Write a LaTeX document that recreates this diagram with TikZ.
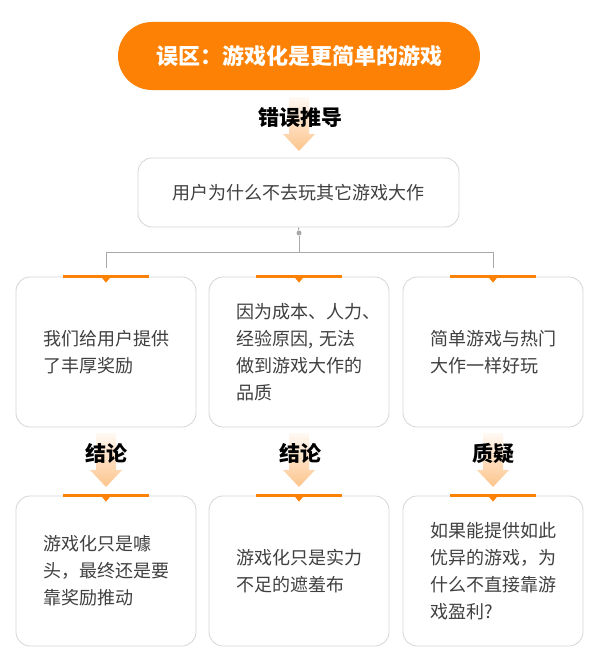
\documentclass[tikz,border=0pt]{standalone}
\usepackage{fontspec}
\setmainfont{Noto Sans CJK SC}
\usetikzlibrary{positioning}
\definecolor{orng}{HTML}{FC8104}
\definecolor{peach}{HTML}{FDC48C}
\definecolor{txtgray}{HTML}{404040}
\definecolor{edgegray}{HTML}{D6D6D6}
\definecolor{linegray}{HTML}{A8A8A8}
\tikzset{
  card/.style={draw=edgegray, line width=0.8pt, rounded corners=14pt, fill=white,
    text=txtgray, font=\fontsize{18}{27}\selectfont, align=left},
  sqcard/.style={card, minimum width=180pt, minimum height=150pt, text width=126pt, inner sep=0pt},
  pill/.style={fill=orng, rounded corners=34pt, minimum width=362pt, minimum height=68pt,
    text=white, font=\fontsize{22}{26}\selectfont\bfseries},
  headlabel/.style={text=black, font=\fontsize{21}{25}\selectfont\bfseries},
  tagbar/.style={orng, line width=3pt},
  conn/.style={linegray, line width=0.9pt}
}
\newcommand\fadearrow[2]{%
  \shade[top color=peach!10, bottom color=peach]
    (#1-10,#2) -- (#1+10,#2) -- (#1+10,#2+37) -- (#1+16,#2+37)
    -- (#1,#2+54) -- (#1-16,#2+37) -- (#1-10,#2+37) -- cycle;}
\newcommand\tagmark[1]{%
  \draw[tagbar] ([xshift=-43pt]#1.north) -- ([xshift=43pt]#1.north);
  \fill[orng] ([xshift=-5pt]#1.north) -- ([xshift=5pt]#1.north) -- ([yshift=-6pt]#1.north) -- cycle;}
\begin{document}
\begin{tikzpicture}[x=1pt, y=-1pt]
  \fill[white] (0,0) rectangle (600,669);
  \useasboundingbox (0,0) rectangle (600,669);
  % title
  \node[pill] (title) at (299,56) {误区：游戏化是更简单的游戏};
  \fadearrow{299}{97}
  \node[headlabel] (wrong) at (300,118) {错误推导};
  \node[card, minimum width=321pt, minimum height=69pt] (q) at (298.5,192.5) {用户为什么不去玩其它游戏大作};
  % reasons
  \node[sqcard] (ra) at (106,352) {我们给用户提供\\了丰厚奖励};
  \node[sqcard] (rb) at (299,352) {因为成本、人力、\\经验原因, 无法\\做到游戏大作的\\品质};
  \node[sqcard] (rc) at (493,352) {简单游戏与热门\\大作一样好玩};
  \foreach \n in {ra,rb,rc} {\tagmark{\n}}
  % connectors
  \node[circle, fill=linegray, inner sep=0pt, minimum size=5pt] (dot) at (299,233) {};
  \coordinate (hub) at (299,252);
  \draw[conn] (q.south) -- (dot);
  \draw[conn] (dot) -- (hub);
  \draw[conn] (hub) -| ([yshift=9pt]ra.north);
  \draw[conn] (hub) -| ([yshift=9pt]rc.north);
  % conclusions
  \foreach \x in {106,299,493} {\fadearrow{\x}{433}}
  \node[headlabel] (ka) at (106,453) {结论};
  \node[headlabel] (kb) at (300,453) {结论};
  \node[headlabel] (kc) at (493,453) {质疑};
  \node[sqcard] (sa) at (106,571) {游戏化只是噱\\头，最终还是要\\靠奖励推动};
  \node[sqcard] (sb) at (299,571) {游戏化只是实力\\不足的遮羞布};
  \node[sqcard] (sc) at (493,571) {如果能提供如此\\优异的游戏，为\\什么不直接靠游\\戏盈利?};
  \foreach \n in {sa,sb,sc} {\tagmark{\n}}
\end{tikzpicture}
\end{document}
